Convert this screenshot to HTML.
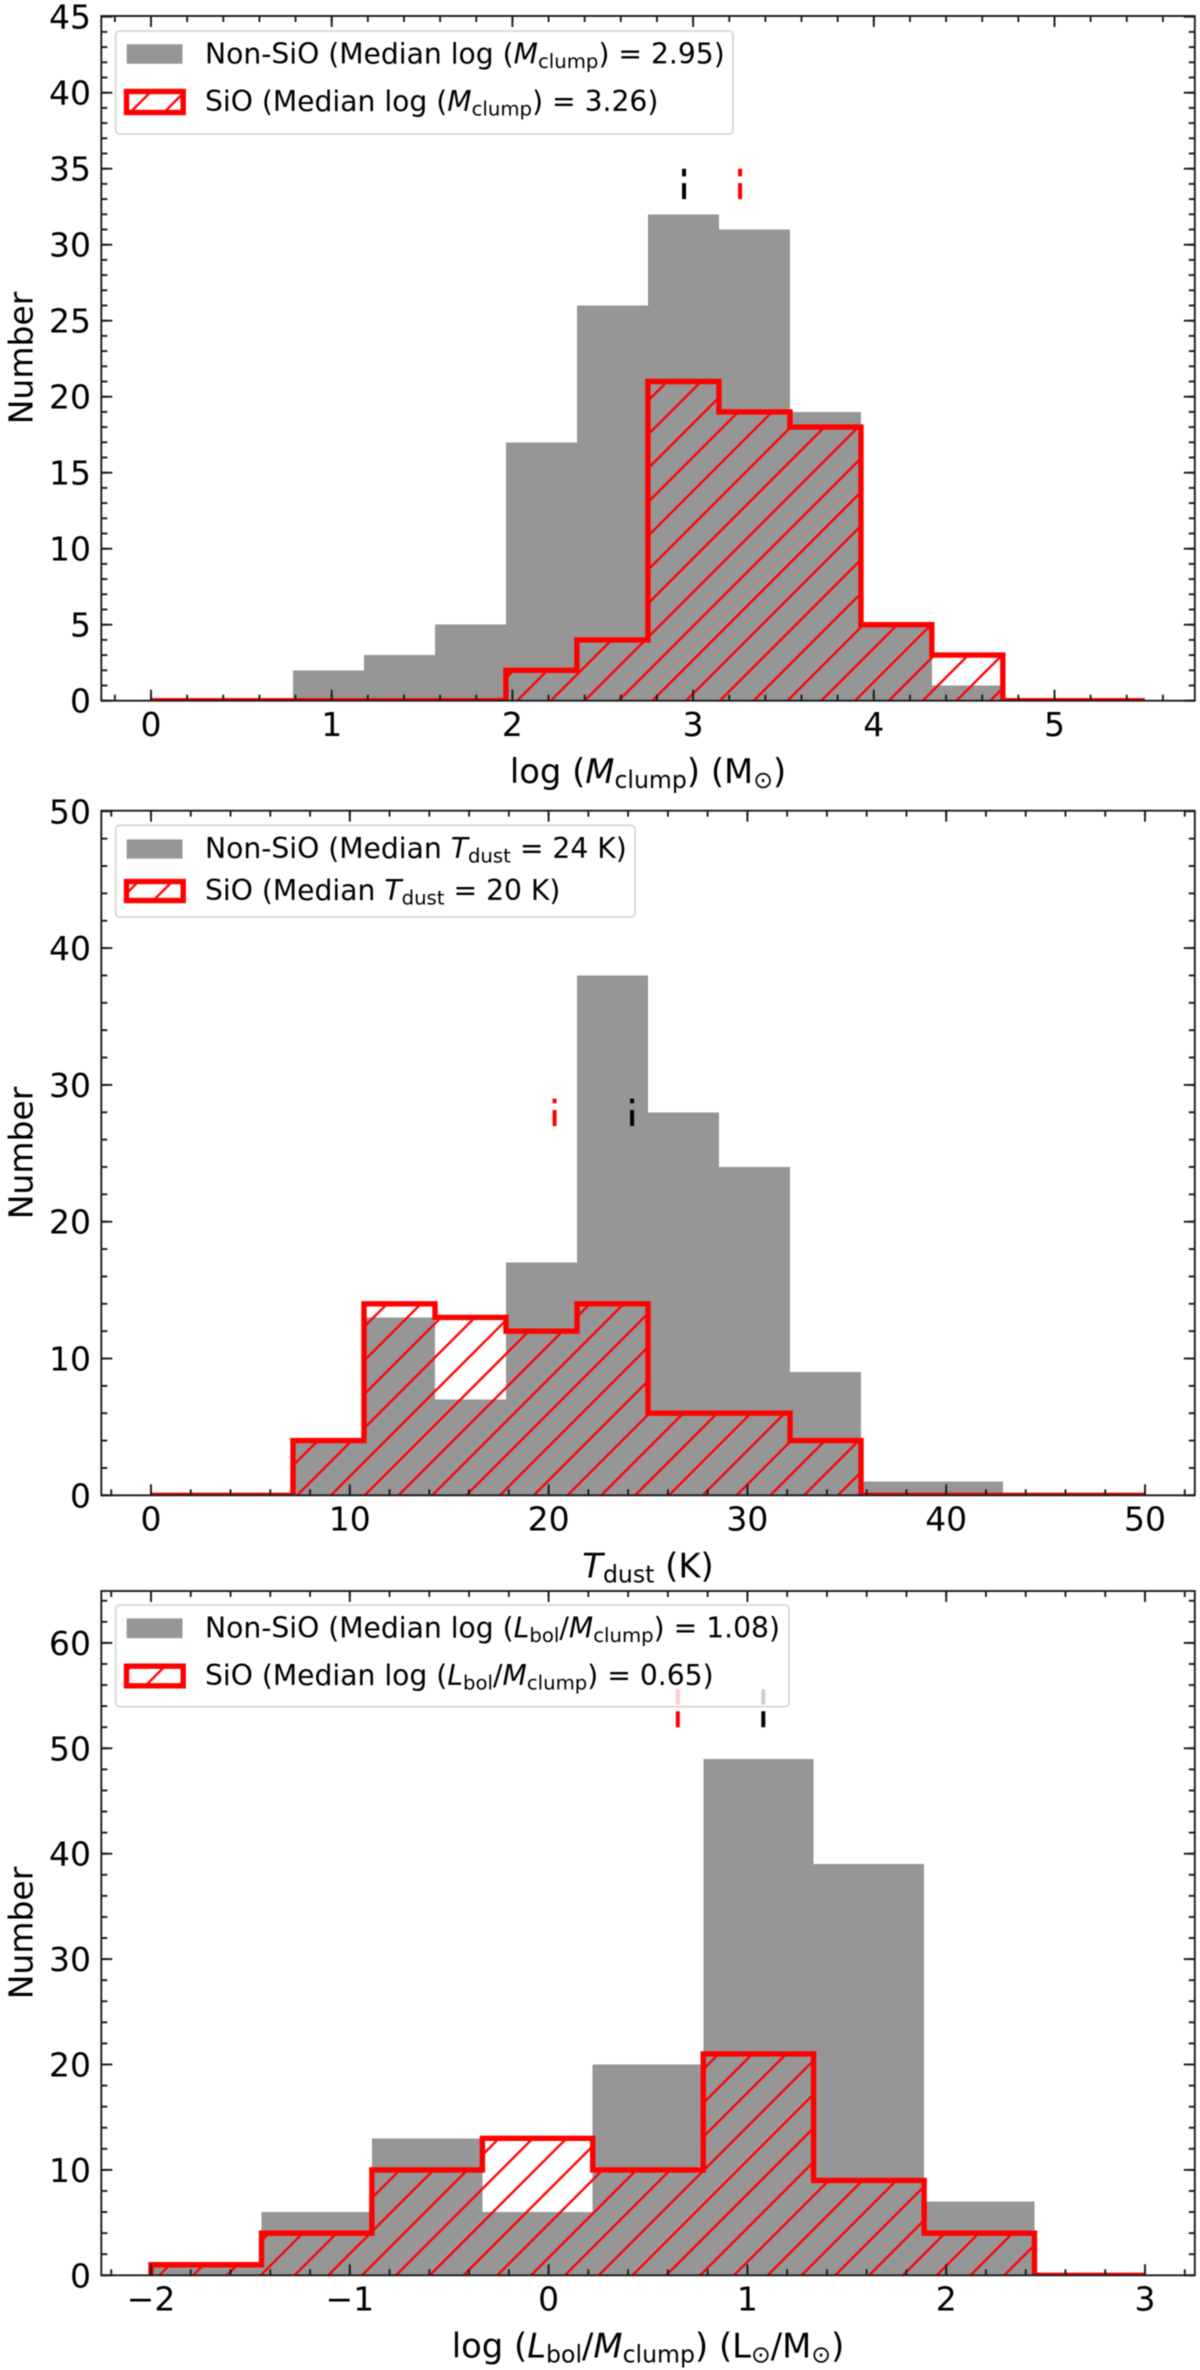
<!DOCTYPE html>
<html lang="en">
<head>
<meta charset="utf-8">
<title>Histograms of clump properties for SiO and non-SiO samples</title>
<style>
  html, body { margin: 0; padding: 0; background: #fff; }
  svg { display: block; filter: blur(0.45px); }
  text { font-family: "DejaVu Sans", "Liberation Sans", sans-serif; fill: #000; }
  .tick-label { font-size: 33px; }
  .axis-label { font-size: 33.8px; }
  .axis-label-y { font-size: 33px; }
  .legend-text { font-size: 28.2px; }
</style>
</head>
<body>
<svg id="figure" xmlns="http://www.w3.org/2000/svg" width="1200" height="2370" viewBox="0 0 1200 2370">
  <defs>
    <clipPath id="clip-mclump"><rect x="101.3" y="16" width="1093.5" height="684.7"/></clipPath>
    <clipPath id="clip-tdust"><rect x="101.3" y="810.7" width="1093.5" height="684.6"/></clipPath>
    <clipPath id="clip-lm"><rect x="101.3" y="1591" width="1093.5" height="684.3"/></clipPath>
    <pattern id="hatch-main" patternUnits="userSpaceOnUse" width="33.8" height="33.8" patternTransform="translate(1,0)">
      <path d="M-3,36.8 L36.8,-3 M-3,3 L3,-3 M30.8,36.8 L36.8,30.8" stroke="#ff0000" stroke-width="2.3" fill="none"/>
    </pattern>
    <pattern id="hatch-legend" patternUnits="userSpaceOnUse" width="33.8" height="33.8" patternTransform="translate(6,0)">
      <path d="M-3,36.8 L36.8,-3 M-3,3 L3,-3 M30.8,36.8 L36.8,30.8" stroke="#ff0000" stroke-width="2.3" fill="none"/>
    </pattern>
  </defs>

  <!-- Panel 1 -->
  <g id="panel-mclump">
    <rect x="101.3" y="16" width="1093.5" height="684.7" fill="#fff"/>
    <g id="marks-mclump" clip-path="url(#clip-mclump)"></g>
    <g id="ticks-mclump"></g>
    <rect x="101.3" y="16" width="1093.5" height="684.7" fill="none" stroke="#1c1c1c" stroke-width="1.9"/>
    <text class="axis-label" x="648" y="783" text-anchor="middle">log (<tspan font-style="italic">M</tspan><tspan dy="5" font-size="23.6">clump</tspan><tspan dy="-5">) (M</tspan><tspan dy="5" font-size="23.6">⊙</tspan><tspan dy="-5">)</tspan></text>
    <text class="axis-label-y" transform="translate(32.5,358) rotate(-90)" text-anchor="middle">Number</text>
    <g>
      <rect x="115.7" y="31" width="617.3" height="103" rx="4" fill="#fff" fill-opacity="0.8" stroke="#cccccc" stroke-opacity="0.8" stroke-width="1.8"/>
      <rect x="126.7" y="44.3" width="55.8" height="19.4" fill="#969696"/>
      <text class="legend-text" x="205" y="63.3">Non-SiO (Median log (<tspan font-style="italic">M</tspan><tspan dy="4.5" font-size="19.7">clump</tspan><tspan dy="-4.5">) = 2.95)</tspan></text>
      <rect x="126.5" y="91.5" width="56.7" height="21" fill="url(#hatch-legend)" stroke="#ff0000" stroke-width="5.4"/>
      <text class="legend-text" x="205" y="111">SiO (Median log (<tspan font-style="italic">M</tspan><tspan dy="4.5" font-size="19.7">clump</tspan><tspan dy="-4.5">) = 3.26)</tspan></text>
    </g>
  </g>

  <!-- Panel 2 -->
  <g id="panel-tdust">
    <rect x="101.3" y="810.7" width="1093.5" height="684.6" fill="#fff"/>
    <g id="marks-tdust" clip-path="url(#clip-tdust)"></g>
    <g id="ticks-tdust"></g>
    <rect x="101.3" y="810.7" width="1093.5" height="684.6" fill="none" stroke="#1c1c1c" stroke-width="1.9"/>
    <text class="axis-label" x="648" y="1577.6" text-anchor="middle"><tspan font-style="italic">T</tspan><tspan dy="5" font-size="23.6">dust</tspan><tspan dy="-5"> (K)</tspan></text>
    <text class="axis-label-y" transform="translate(32.5,1153) rotate(-90)" text-anchor="middle">Number</text>
    <g>
      <rect x="115.7" y="825.3" width="519.3" height="91.7" rx="4" fill="#fff" fill-opacity="0.8" stroke="#cccccc" stroke-opacity="0.8" stroke-width="1.8"/>
      <rect x="126.7" y="839.4" width="55.8" height="19.2" fill="#969696"/>
      <text class="legend-text" x="205" y="858">Non-SiO (Median <tspan font-style="italic">T</tspan><tspan dy="4.5" font-size="19.7">dust</tspan><tspan dy="-4.5"> = 24 K)</tspan></text>
      <rect x="126.5" y="881.5" width="56.7" height="19" fill="url(#hatch-legend)" stroke="#ff0000" stroke-width="5.4"/>
      <text class="legend-text" x="205" y="900">SiO (Median <tspan font-style="italic">T</tspan><tspan dy="4.5" font-size="19.7">dust</tspan><tspan dy="-4.5"> = 20 K)</tspan></text>
    </g>
  </g>

  <!-- Panel 3 -->
  <g id="panel-lm">
    <rect x="101.3" y="1591" width="1093.5" height="684.3" fill="#fff"/>
    <g id="marks-lm" clip-path="url(#clip-lm)"></g>
    <g id="ticks-lm"></g>
    <rect x="101.3" y="1591" width="1093.5" height="684.3" fill="none" stroke="#1c1c1c" stroke-width="1.9"/>
    <text class="axis-label" x="648" y="2357.5" text-anchor="middle">log (<tspan font-style="italic">L</tspan><tspan dy="5" font-size="23.6">bol</tspan><tspan dy="-5">/</tspan><tspan font-style="italic">M</tspan><tspan dy="5" font-size="23.6">clump</tspan><tspan dy="-5">) (L</tspan><tspan dy="5" font-size="23.6">⊙</tspan><tspan dy="-5">/M</tspan><tspan dy="5" font-size="23.6">⊙</tspan><tspan dy="-5">)</tspan></text>
    <text class="axis-label-y" transform="translate(32.5,1933) rotate(-90)" text-anchor="middle">Number</text>
    <g id="legend-lm">
      <rect x="115.7" y="1605" width="673.3" height="101.7" rx="4" fill="#fff" fill-opacity="0.8" stroke="#cccccc" stroke-opacity="0.8" stroke-width="1.8"/>
      <rect x="126.7" y="1618.4" width="55.8" height="19.8" fill="#969696"/>
      <text class="legend-text" x="205" y="1637.7">Non-SiO (Median log (<tspan font-style="italic">L</tspan><tspan dy="4.5" font-size="19.7">bol</tspan><tspan dy="-4.5">/</tspan><tspan font-style="italic">M</tspan><tspan dy="4.5" font-size="19.7">clump</tspan><tspan dy="-4.5">) = 1.08)</tspan></text>
      <rect x="126.5" y="1666.2" width="56.7" height="19.6" fill="url(#hatch-legend)" stroke="#ff0000" stroke-width="5.4"/>
      <text class="legend-text" x="205" y="1685">SiO (Median log (<tspan font-style="italic">L</tspan><tspan dy="4.5" font-size="19.7">bol</tspan><tspan dy="-4.5">/</tspan><tspan font-style="italic">M</tspan><tspan dy="4.5" font-size="19.7">clump</tspan><tspan dy="-4.5">) = 0.65)</tspan></text>
    </g>
  </g>
</svg>

<script>
// ---- Panel 1: log clump mass ----
const mclumpEdges = [0, 0.393, 0.786, 1.179, 1.571, 1.964, 2.357, 2.75, 3.143, 3.536, 3.929, 4.321, 4.714, 5.107, 5.5];
const mclumpNonSio = [0, 0, 2, 3, 5, 17, 26, 32, 31, 19, 5, 1, 0, 0];
const mclumpSio = [0, 0, 0, 0, 0, 2, 4, 21, 19, 18, 5, 3, 0, 0];
const mclumpMedians = [2.95, 3.26];
const mclumpMedianSpan = [33, 35];
const mclumpXTicks = [0, 1, 2, 3, 4, 5];
const mclumpYTicks = [0, 5, 10, 15, 20, 25, 30, 35, 40, 45];

// ---- Panel 2: dust temperature ----
const tdustEdges = [0, 3.571, 7.143, 10.714, 14.286, 17.857, 21.429, 25, 28.571, 32.143, 35.714, 39.286, 42.857, 46.429, 50];
const tdustNonSio = [0, 0, 4, 13, 7, 17, 38, 28, 24, 9, 1, 1, 0, 0];
const tdustSio = [0, 0, 4, 14, 13, 12, 14, 6, 6, 4, 0, 0, 0, 0];
const tdustMedians = [24.2, 20.3];
const tdustMedianSpan = [27, 29];
const tdustXTicks = [0, 10, 20, 30, 40, 50];
const tdustYTicks = [0, 10, 20, 30, 40, 50];

// ---- Panel 3: log luminosity-to-mass ratio ----
const lmEdges = [-2, -1.444, -0.889, -0.333, 0.222, 0.778, 1.333, 1.889, 2.444, 3];
const lmNonSio = [1, 6, 13, 6, 20, 49, 39, 7, 0];
const lmSio = [1, 4, 10, 13, 10, 21, 9, 4, 0];
const lmMedians = [1.08, 0.65];
const lmMedianSpan = [52, 55.6];
const lmXTicks = [-2, -1, 0, 1, 2, 3];
const lmYTicks = [0, 10, 20, 30, 40, 50, 60];

const SVG_NS = 'http://www.w3.org/2000/svg';
const MEDIAN_COLORS = ['#000000', '#ff0000'];

function make(tag, attrs, parent) {
  const node = document.createElementNS(SVG_NS, tag);
  for (const key in attrs) node.setAttribute(key, attrs[key]);
  parent.appendChild(node);
  return node;
}

function drawPanel(cfg) {
  const xAxis = v => cfg.x0 + v * cfg.kx;
  const yAxis = v => cfg.y0 - v * cfg.ky;
  const marks = document.getElementById(cfg.marksId);
  const ticks = document.getElementById(cfg.ticksId);

  // Non-SiO filled bars
  cfg.nonSio.forEach((count, i) => {
    if (count <= 0) return;
    const bar = make('rect', {
      x: xAxis(cfg.edges[i]),
      y: yAxis(count),
      width: xAxis(cfg.edges[i + 1]) - xAxis(cfg.edges[i]),
      height: yAxis(0) - yAxis(count),
      fill: '#969696',
      'shape-rendering': 'crispEdges'
    }, marks);
    
    
  });

  // SiO step outline and hatch
  let step = 'M' + xAxis(cfg.edges[0]) + ',' + yAxis(0);
  cfg.sio.forEach((count, i) => {
    step += ' L' + xAxis(cfg.edges[i]) + ',' + yAxis(count);
    step += ' L' + xAxis(cfg.edges[i + 1]) + ',' + yAxis(count);
  });
  step += ' L' + xAxis(cfg.edges[cfg.edges.length - 1]) + ',' + yAxis(0);

  const hatch = make('path', { d: step + ' Z', fill: 'url(#hatch-main)', stroke: 'none' }, marks);
  
  

  const outline = make('path', {
    d: step,
    fill: 'none',
    stroke: '#ff0000',
    'stroke-width': 5.4,
    'stroke-linejoin': 'miter'
  }, marks);
  
  

  // Median markers
  cfg.medians.forEach((value, i) => {
    const marker = make('line', {
      x1: xAxis(value),
      x2: xAxis(value),
      y1: yAxis(cfg.medianSpan[0]),
      y2: yAxis(cfg.medianSpan[1]),
      stroke: MEDIAN_COLORS[i],
      'stroke-width': 4,
      'stroke-dasharray': '16 6.7'
    }, marks);
    
    
  });

  // Tick helper
  function tickLine(x1, y1, x2, y2, name) {
    const t = make('line', { x1: x1, y1: y1, x2: x2, y2: y2, stroke: '#1c1c1c', 'stroke-width': 1.9 }, ticks);
    
    
  }
  const MAJOR = 11, MINOR = 6;

  // Minor ticks
  const nx = Math.round((cfg.xMinorEnd - cfg.xMinorStart) / cfg.xMinor);
  for (let i = 0; i <= nx; i++) {
    const px = xAxis(cfg.xMinorStart + i * cfg.xMinor);
    tickLine(px, cfg.bottom, px, cfg.bottom - MINOR, 'x-minor-tick');
    tickLine(px, cfg.top, px, cfg.top + MINOR, 'x-minor-tick');
  }
  const ny = Math.round(cfg.yMinorEnd / cfg.yMinor);
  for (let i = 0; i <= ny; i++) {
    const py = yAxis(i * cfg.yMinor);
    tickLine(cfg.left, py, cfg.left + MINOR, py, 'y-minor-tick');
    tickLine(cfg.right, py, cfg.right - MINOR, py, 'y-minor-tick');
  }

  // Major x ticks and labels
  cfg.xTicks.forEach(value => {
    const px = xAxis(value);
    tickLine(px, cfg.bottom, px, cfg.bottom - MAJOR, 'x-major-tick');
    tickLine(px, cfg.top, px, cfg.top + MAJOR, 'x-major-tick');
    const label = make('text', { class: 'tick-label', x: px, y: cfg.bottom + 35.3, 'text-anchor': 'middle' }, ticks);
    label.textContent = String(value).replace('-', '\u2212');
    
    
  });

  // Major y ticks and labels
  cfg.yTicks.forEach(value => {
    const py = yAxis(value);
    tickLine(cfg.left, py, cfg.left + MAJOR, py, 'y-major-tick');
    tickLine(cfg.right, py, cfg.right - MAJOR, py, 'y-major-tick');
    const label = make('text', { class: 'tick-label', x: 91, y: py + 12, 'text-anchor': 'end' }, ticks);
    label.textContent = String(value);
    
    
  });
}

drawPanel({
  marksId: 'marks-mclump', ticksId: 'ticks-mclump',
  edges: mclumpEdges, nonSio: mclumpNonSio, sio: mclumpSio,
  medians: mclumpMedians, medianSpan: mclumpMedianSpan,
  xTicks: mclumpXTicks, yTicks: mclumpYTicks,
  x0: 151, kx: 180.7, y0: 700.7, ky: 15.2,
  left: 101.3, right: 1194.8, top: 16, bottom: 700.7,
  xMinor: 0.2, xMinorStart: -0.2, xMinorEnd: 5.6, yMinor: 1, yMinorEnd: 44
});

drawPanel({
  marksId: 'marks-tdust', ticksId: 'ticks-tdust',
  edges: tdustEdges, nonSio: tdustNonSio, sio: tdustSio,
  medians: tdustMedians, medianSpan: tdustMedianSpan,
  xTicks: tdustXTicks, yTicks: tdustYTicks,
  x0: 151, kx: 19.88, y0: 1495.3, ky: 13.68,
  left: 101.3, right: 1194.8, top: 810.7, bottom: 1495.3,
  xMinor: 2, xMinorStart: -2, xMinorEnd: 52, yMinor: 2, yMinorEnd: 48
});

drawPanel({
  marksId: 'marks-lm', ticksId: 'ticks-lm',
  edges: lmEdges, nonSio: lmNonSio, sio: lmSio,
  medians: lmMedians, medianSpan: lmMedianSpan,
  xTicks: lmXTicks, yTicks: lmYTicks,
  x0: 548.6, kx: 198.8, y0: 2275.3, ky: 10.54,
  left: 101.3, right: 1194.8, top: 1591, bottom: 2275.3,
  xMinor: 0.2, xMinorStart: -2.2, xMinorEnd: 3.2, yMinor: 2, yMinorEnd: 64
});
</script>
</body>
</html>
